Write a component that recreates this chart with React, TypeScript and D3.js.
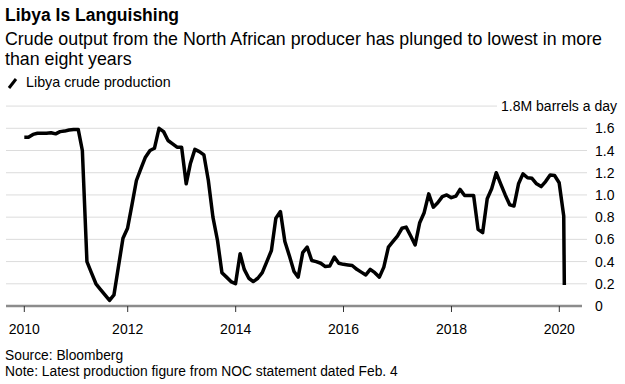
import React from "react";
import * as d3 from "d3";

// Monthly Libya crude production, million barrels a day (end-of-month readings)
const years = [2010, 2011, 2012, 2013, 2014, 2015, 2016, 2017, 2018, 2019, 2020];
const prod2010 = [1.52, 1.52, 1.545, 1.555, 1.555, 1.555, 1.56, 1.55, 1.57, 1.575, 1.585, 1.59];
const prod2011 = [1.59, 1.4, 0.4, 0.3, 0.2, 0.15, 0.1, 0.05, 0.1, 0.36, 0.61, 0.7];
const prod2012 = [0.92, 1.13, 1.24, 1.34, 1.4, 1.42, 1.6, 1.57, 1.49, 1.46, 1.43, 1.43];
const prod2013 = [1.1, 1.28, 1.41, 1.39, 1.36, 1.13, 0.8, 0.59, 0.3, 0.26, 0.22, 0.2];
const prod2014 = [0.47, 0.33, 0.25, 0.22, 0.25, 0.3, 0.4, 0.5, 0.79, 0.85, 0.58, 0.45];
const prod2015 = [0.31, 0.26, 0.48, 0.53, 0.41, 0.4, 0.385, 0.355, 0.36, 0.44, 0.385, 0.375];
const prod2016 = [0.37, 0.365, 0.33, 0.305, 0.28, 0.33, 0.3, 0.26, 0.35, 0.53, 0.58, 0.63];
const prod2017 = [0.7, 0.71, 0.63, 0.55, 0.75, 0.84, 1.01, 0.89, 0.93, 0.985, 1.0, 0.975];
const prod2018 = [0.99, 1.05, 0.995, 0.995, 0.995, 0.69, 0.66, 0.965, 1.055, 1.2, 1.1, 1.0];
const prod2019 = [0.91, 0.9, 1.1, 1.19, 1.155, 1.15, 1.1, 1.075, 1.12, 1.18, 1.175, 1.11];
const prod2020 = [0.81];
const latestDate = "2020-02-04";
const latestValue = 0.19;

const yTicks = [0, 0.2, 0.4, 0.6, 0.8, 1.0, 1.2, 1.4, 1.6];
const yTopTick = 1.8;
const yTopLabel = "1.8M barrels a day";
const xTickYears = [2010, 2012, 2014, 2016, 2018, 2020];

const title = "Libya Is Languishing";
const subtitle1 = "Crude output from the North African producer has plunged to lowest in more";
const subtitle2 = "than eight years";
const legendLabel = "Libya crude production";
const source = "Source: Bloomberg";
const note = "Note: Latest production figure from NOC statement dated Feb. 4";

type Pt = { date: Date; value: number };

const series = [prod2010, prod2011, prod2012, prod2013, prod2014, prod2015, prod2016, prod2017, prod2018, prod2019, prod2020];
const data: Pt[] = [];
series.forEach((arr, yi) => {
  arr.forEach((v, m) => {
    data.push({ date: new Date(years[yi], m + 1, 0), value: v });
  });
});
const [ly, lm, ld] = latestDate.split("-").map(Number);
data.push({ date: new Date(ly, lm - 1, ld), value: latestValue });

const FONT = "'Liberation Sans', Arial, Helvetica, sans-serif";

export default function App() {
  const x = d3
    .scaleTime()
    .domain([new Date(2012, 0, 1), new Date(2020, 0, 1)])
    .range([127.7, 559.3]);
  const y = d3.scaleLinear().domain([0, 1.6]).range([306, 128.3]);

  const line = d3
    .line<Pt>()
    .x((d) => x(d.date))
    .y((d) => y(d.value));

  const firstDate = data[0].date;
  const gridLeft = 6;
  const gridRight = 587;
  const axisRight = 582;

  return (
    <svg
      width={625}
      height={384}
      style={{ position: "absolute", left: 0, top: 0, background: "#fff" }}
      fontFamily={FONT}
    >
      <rect x={0} y={0} width={625} height={384} fill="#fff" />
      <text x={5} y={21} fontSize={17.5} fontWeight="bold" fill="#000">
        {title}
      </text>
      <text x={5} y={45} fontSize={17.8} fill="#000">
        {subtitle1}
      </text>
      <text x={5} y={65} fontSize={17.8} fill="#000">
        {subtitle2}
      </text>
      <line x1={9} y1={88} x2={16} y2={79} stroke="#000" strokeWidth={3} />
      <text x={26} y={87} fontSize={14.3} fill="#000">
        {legendLabel}
      </text>

      {yTicks.map((t) =>
        t === 0 ? null : (
          <line key={t} x1={gridLeft} x2={gridRight} y1={y(t)} y2={y(t)} stroke="#dcdcdc" strokeWidth={1} />
        )
      )}
      <line x1={gridLeft} x2={497} y1={y(yTopTick)} y2={y(yTopTick)} stroke="#dcdcdc" strokeWidth={1} />
      {yTicks.map((t) => (
        <text key={"l" + t} x={595} y={y(t) + 5} fontSize={14} fill="#000">
          {t === 0 ? "0" : t.toFixed(1)}
        </text>
      ))}
      <text x={617} y={y(yTopTick) + 5} fontSize={14} fill="#000" textAnchor="end">
        {yTopLabel}
      </text>

      <line x1={gridLeft} x2={axisRight} y1={y(0)} y2={y(0)} stroke="#8c8c8c" strokeWidth={2.5} />
      {xTickYears.map((yr) => {
        const d = new Date(yr, 0, 1);
        const px = x(d < firstDate ? firstDate : d);
        return (
          <g key={yr}>
            <line x1={px} x2={px} y1={y(0)} y2={y(0) + 6} stroke="#333" strokeWidth={1} />
            <text x={px} y={334} fontSize={14} textAnchor="middle" fill="#000">
              {yr}
            </text>
          </g>
        );
      })}

      <path d={line(data) || ""} fill="none" stroke="#000" strokeWidth={3.5} strokeLinejoin="round" />

      <text x={5} y={360} fontSize={13.8} fill="#000">
        {source}
      </text>
      <text x={5} y={376} fontSize={13.8} fill="#000">
        {note}
      </text>
    </svg>
  );
}
